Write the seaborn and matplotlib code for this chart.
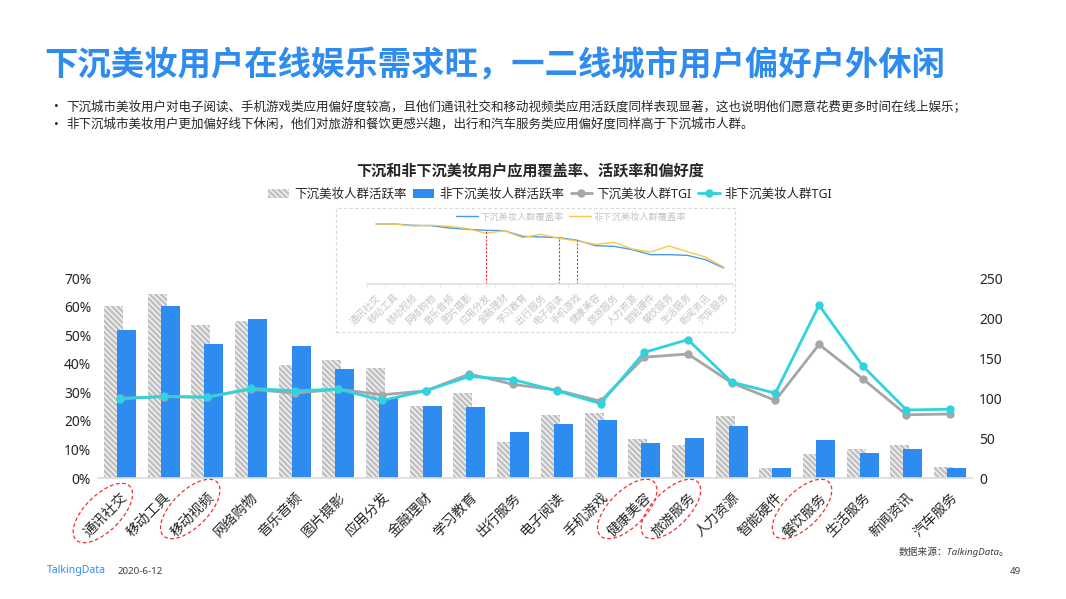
import numpy as np
import pandas as pd
import seaborn as sns
import matplotlib.pyplot as plt
from matplotlib.patches import Ellipse, Rectangle
from matplotlib.transforms import IdentityTransform

categories = ["通讯社交", "移动工具", "移动视频", "网络购物", "音乐音频", "图片摄影", "应用分发", "金融理财", "学习教育", "出行服务",
              "电子阅读", "手机游戏", "健康美容", "旅游服务", "人力资源", "智能硬件", "餐饮服务", "生活服务", "新闻资讯", "汽车服务"]

active_sink = [60.2, 64.4, 53.6, 55.0, 39.6, 41.3, 38.5, 25.2, 29.8, 12.6,
               22.1, 22.8, 13.7, 11.6, 21.7, 3.5, 8.4, 10.2, 11.6, 3.9]
active_other = [51.8, 60.2, 46.9, 55.7, 46.2, 38.2, 28.0, 25.2, 24.9, 16.1,
                18.9, 20.3, 12.3, 14.0, 18.2, 3.5, 13.3, 8.8, 10.2, 3.5]
tgi_sink = [99.6, 101.7, 101, 111, 106, 111, 104, 109, 130, 117,
            110, 96, 151, 155, 119, 97, 167, 124, 79, 80]
tgi_other = [99, 102, 101, 112, 109, 111, 97, 109, 127, 123,
             109, 93, 157, 173, 120, 106, 216, 140, 85, 86]
cover_sink = [90, 90, 88, 87.5, 84, 82, 80.5, 80, 71.5, 70.5,
              69.5, 65.5, 57.5, 56.5, 51.5, 44, 44, 43, 36.5, 24]
cover_other = [90, 90, 87, 88, 86.5, 83, 76, 80, 69.5, 74.5,
               68.5, 64.5, 59.5, 62.5, 52.5, 48, 57, 48.5, 40.5, 25]
marked_cover = [6, 10, 11]
circled = [0, 2, 12, 13, 16]

BLUE = "#2e8bef"
GRAY = "#a6a6a6"
CYAN = "#2fd3de"
W, H = 1066, 599

sns.set_theme(style="white")
plt.rcParams['font.family'] = ['Noto Sans', 'Noto Sans CJK SC', 'DejaVu Sans']
plt.rcParams['hatch.linewidth'] = 2.0
plt.rcParams['text.color'] = '#262626'


def box(left, top, right, bottom):
    return [left / W, 1 - bottom / H, (right - left) / W, (bottom - top) / H]


fig = plt.figure(figsize=(W / 100, H / 100), dpi=100, facecolor="white")
ax = fig.add_axes(box(98, 278, 972, 478))

pos = np.arange(len(categories))
df = pd.DataFrame({"pos": pos, "active_sink": active_sink, "active_other": active_other})

# 两组柱子有重叠，所以用数值坐标错开
sns.barplot(x=df["pos"] - 0.149, y=df["active_sink"], native_scale=True, width=0.435, color="white",
            edgecolor="#c2c2c2", hatch="\\" * 6, linewidth=0, saturation=1, errorbar=None,
            label="下沉美妆人群活跃率", ax=ax)
sns.barplot(x=df["pos"] + 0.149, y=df["active_other"], native_scale=True, width=0.435, color=BLUE,
            linewidth=0, saturation=1, errorbar=None, label="非下沉美妆人群活跃率", ax=ax)

ax.set_xlim(-0.5, 19.5)
ax.set_ylim(0, 70)
ax.set_xticks(pos, categories, rotation=45, ha="right", rotation_mode="anchor", fontsize=10)
ax.set_yticks(range(0, 71, 10), [f"{v}%" for v in range(0, 71, 10)], fontsize=10)
ax.tick_params(axis="x", length=0, pad=9, colors="#262626")
ax.tick_params(axis="y", length=0, pad=5, colors="#262626")
ax.set_xlabel("")
ax.set_ylabel("")
sns.despine(ax=ax, left=True)
ax.spines["bottom"].set_color("#dcdcdc")

ax2 = ax.twinx()
sns.lineplot(x=pos, y=tgi_sink, color=GRAY, linewidth=2, marker="o", markersize=6, markeredgewidth=0,
             label="下沉美妆人群TGI", ax=ax2)
sns.lineplot(x=pos, y=tgi_other, color=CYAN, linewidth=2, marker="o", markersize=6, markeredgewidth=0,
             label="非下沉美妆人群TGI", ax=ax2)
ax2.set_ylim(0, 250)
ax2.set_yticks(range(0, 251, 50))
ax2.tick_params(axis="y", length=0, pad=5, labelsize=10, colors="#262626")
ax2.set_ylabel("")
sns.despine(ax=ax2, left=True, right=True, bottom=True)

h1, l1 = ax.get_legend_handles_labels()
h2, l2 = ax2.get_legend_handles_labels()
if ax.get_legend():
    ax.get_legend().remove()
ax2.get_legend().remove()
fig.legend(h1 + h2, l1 + l2, ncol=4, frameon=False, loc="center", bbox_to_anchor=(550 / W, 1 - 194 / H),
           fontsize=9, handlelength=1.7, handleheight=0.7, handletextpad=0.35, columnspacing=0.55)

# 小图：覆盖率
ins = fig.add_axes(box(367, 208, 733, 284))
ins.patch.set_alpha(0)
sns.lineplot(x=pos, y=cover_sink, color="#4a9ae8", linewidth=1, label="下沉美妆人群覆盖率", ax=ins)
sns.lineplot(x=pos, y=cover_other, color="#f7c94b", linewidth=1, label="非下沉美妆人群覆盖率", ax=ins)
ins.vlines(marked_cover, 0, [cover_sink[i] for i in marked_cover], color="#f03030", linewidth=0.8, linestyle=(0, (2, 1.5)))
ins.set_xlim(-0.5, 19.5)
ins.set_ylim(0, 114)
ins.set_yticks([])
ins.set_xticks(pos, categories, rotation=45, ha="right", rotation_mode="anchor", fontsize=6.9, color="#c4c4c4")
ins.set_xticks(np.arange(-0.5, 20), minor=True)
ins.tick_params(axis="x", which="major", length=0, pad=6)
ins.tick_params(axis="x", which="minor", length=2, width=0.6, color="#e2e2e2", bottom=True)
sns.despine(ax=ins, left=True)
ins.spines["bottom"].set_color("#e2e2e2")
ins.legend(frameon=False, ncol=2, loc="center", bbox_to_anchor=(571 / W, 1 - 217 / H), bbox_transform=fig.transFigure,
           fontsize=6.7, labelcolor="#c4c4c4", handlelength=2.3, handletextpad=0.3, columnspacing=0.6)

fig.add_artist(Rectangle((336 / W, 1 - 332 / H), 399 / W, 124 / H, transform=fig.transFigure, fill=False,
                         edgecolor="#d9d9d9", linewidth=0.8, linestyle=(0, (3, 2))))

# 红色虚线圈
for i in circled:
    cx, cy = ax.transData.transform((i, 0))
    dy = -35 if i == 0 else -31
    fig.add_artist(Ellipse((cx - 17, cy + dy), 76, 36, angle=45, transform=IdentityTransform(), fill=False,
                           edgecolor="#f03030", linewidth=0.9, linestyle=(0, (3, 2))))

# 页面文字
fig.text(44 / W, 1 - 67 / H, "下沉美妆用户在线娱乐需求旺，一二线城市用户偏好户外休闲", fontsize=24, fontweight="bold", color=BLUE, va="center")
fig.text(54 / W, 1 - 107 / H, "•", fontsize=9, va="center")
fig.text(66 / W, 1 - 107 / H, "下沉城市美妆用户对电子阅读、手机游戏类应用偏好度较高，且他们通讯社交和移动视频类应用活跃度同样表现显著，这也说明他们愿意花费更多时间在线上娱乐；", fontsize=9, va="center")
fig.text(54 / W, 1 - 124 / H, "•", fontsize=9, va="center")
fig.text(66 / W, 1 - 124 / H, "非下沉城市美妆用户更加偏好线下休闲，他们对旅游和餐饮更感兴趣，出行和汽车服务类应用偏好度同样高于下沉城市人群。", fontsize=9, va="center")
fig.text(530 / W, 1 - 172 / H, "下沉和非下沉美妆用户应用覆盖率、活跃率和偏好度", fontsize=10.9, fontweight="bold", ha="center", va="center")
fig.text(1009 / W, 1 - 552 / H, "数据来源：TalkingData。", fontsize=7, style="italic", ha="right", va="center", color="#404040")
fig.text(47 / W, 1 - 571 / H, "TalkingData", fontsize=7.5, fontweight="bold", color=BLUE, va="center")
fig.text(118 / W, 1 - 571 / H, "2020-6-12", fontsize=7, va="center", color="#404040")
fig.text(1021 / W, 1 - 571 / H, "49", fontsize=7, ha="right", va="center", color="#404040")

fig.savefig("out.png", dpi=100)
